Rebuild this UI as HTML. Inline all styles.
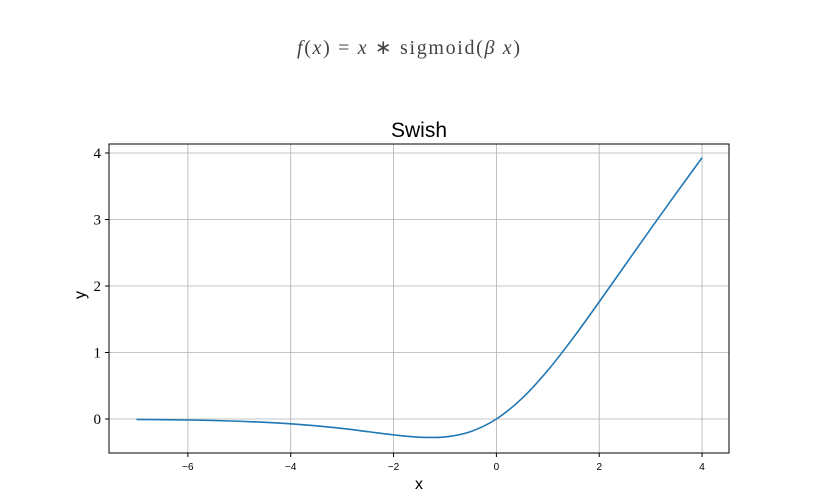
<!DOCTYPE html>
<html><head><meta charset="utf-8"><style>
body{margin:0;background:#fff;width:818px;height:497px;overflow:hidden}
svg{display:block}
</style></head><body>
<svg id="fig" width="818" height="497" xmlns="http://www.w3.org/2000/svg">
<text x="297" y="54" textLength="223" lengthAdjust="spacing" font-family="Liberation Serif, serif" font-size="20" fill="#444"><tspan font-style="italic">f</tspan>(<tspan font-style="italic">x</tspan>) = <tspan font-style="italic">x</tspan> ∗ sigmoid(<tspan font-style="italic">β x</tspan>)</text>
<text x="419" y="137" text-anchor="middle" font-family="Liberation Sans, sans-serif" font-size="21" fill="#000">Swish</text>
<g id="grid"></g>
<g id="ticks"></g>
<path id="curve" fill="none" stroke="#1f77b4" stroke-width="1.6"/>
<rect x="109" y="144" width="620" height="309" fill="none" stroke="#000" stroke-width="1"/>
<text x="419" y="489" text-anchor="middle" font-family="Liberation Sans, sans-serif" font-size="16">x</text>
<text transform="translate(85,295) rotate(-90)" text-anchor="middle" font-family="Liberation Sans, sans-serif" font-size="16">y</text>
</svg>
<script>
const xTicks=[-6,-4,-2,0,2,4];
const yTicks=[0,1,2,3,4];
const xs=[-7,-6.5,-6,-5.5,-5,-4.5,-4,-3.5,-3,-2.5,-2,-1.5,-1,-0.5,0,0.5,1,1.5,2,2.5,3,3.5,4];
const ys=[-0.0064,-0.0098,-0.0148,-0.0224,-0.0335,-0.0495,-0.0719,-0.1026,-0.1423,-0.1897,-0.2384,-0.2736,-0.2689,-0.1888,0,0.3112,0.7311,1.2264,1.7616,2.3103,2.8577,3.3974,3.9281];
const L=109,R=729,T=144,B=453,xmin=-7.534,xmax=4.524,ymin=-0.511,ymax=4.135;
const sx=v=>L+(v-xmin)/(xmax-xmin)*(R-L);
const sy=v=>B-(v-ymin)/(ymax-ymin)*(B-T);
const NS="http://www.w3.org/2000/svg";
const grid=document.getElementById('grid'),tk=document.getElementById('ticks');
function mk(tag,attrs,parent){const e=document.createElementNS(NS,tag);for(const k in attrs)e.setAttribute(k,attrs[k]);parent.appendChild(e);return e;}
xTicks.forEach(v=>{
 const g=mk('line',{x1:sx(v),x2:sx(v),y1:T,y2:B,stroke:'#b0b0b0','stroke-width':0.8},grid);
 
 
 const t=mk('line',{x1:sx(v),x2:sx(v),y1:B,y2:B+4,stroke:'#000'},tk);
 
 
 const l=mk('text',{x:sx(v),y:B+17,'text-anchor':'middle','font-family':'Liberation Sans, sans-serif','font-size':10},tk);
 l.textContent=(v<0?'\u2212'+(-v):v);
 
 
});
yTicks.forEach(v=>{
 const g=mk('line',{x1:L,x2:R,y1:sy(v),y2:sy(v),stroke:'#b0b0b0','stroke-width':0.8},grid);
 
 
 const t=mk('line',{x1:L-4,x2:L,y1:sy(v),y2:sy(v),stroke:'#000'},tk);
 
 
 const l=mk('text',{x:L-8,y:sy(v)+5,'text-anchor':'end','font-family':'Liberation Serif, serif','font-size':15},tk);
 l.textContent=v;
 
 
});
const P=xs.map((x,i)=>[sx(x),sy(ys[i])]);
let d='M'+P[0][0]+','+P[0][1];
for(let i=0;i<P.length-1;i++){
 const p0=P[Math.max(0,i-1)],p1=P[i],p2=P[i+1],p3=P[Math.min(P.length-1,i+2)];
 const c1=[p1[0]+(p2[0]-p0[0])/6,p1[1]+(p2[1]-p0[1])/6],c2=[p2[0]-(p3[0]-p1[0])/6,p2[1]-(p3[1]-p1[1])/6];
 d+=' C'+c1+' '+c2+' '+p2;
}
document.getElementById('curve').setAttribute('d',d);
</script>
</body></html>
